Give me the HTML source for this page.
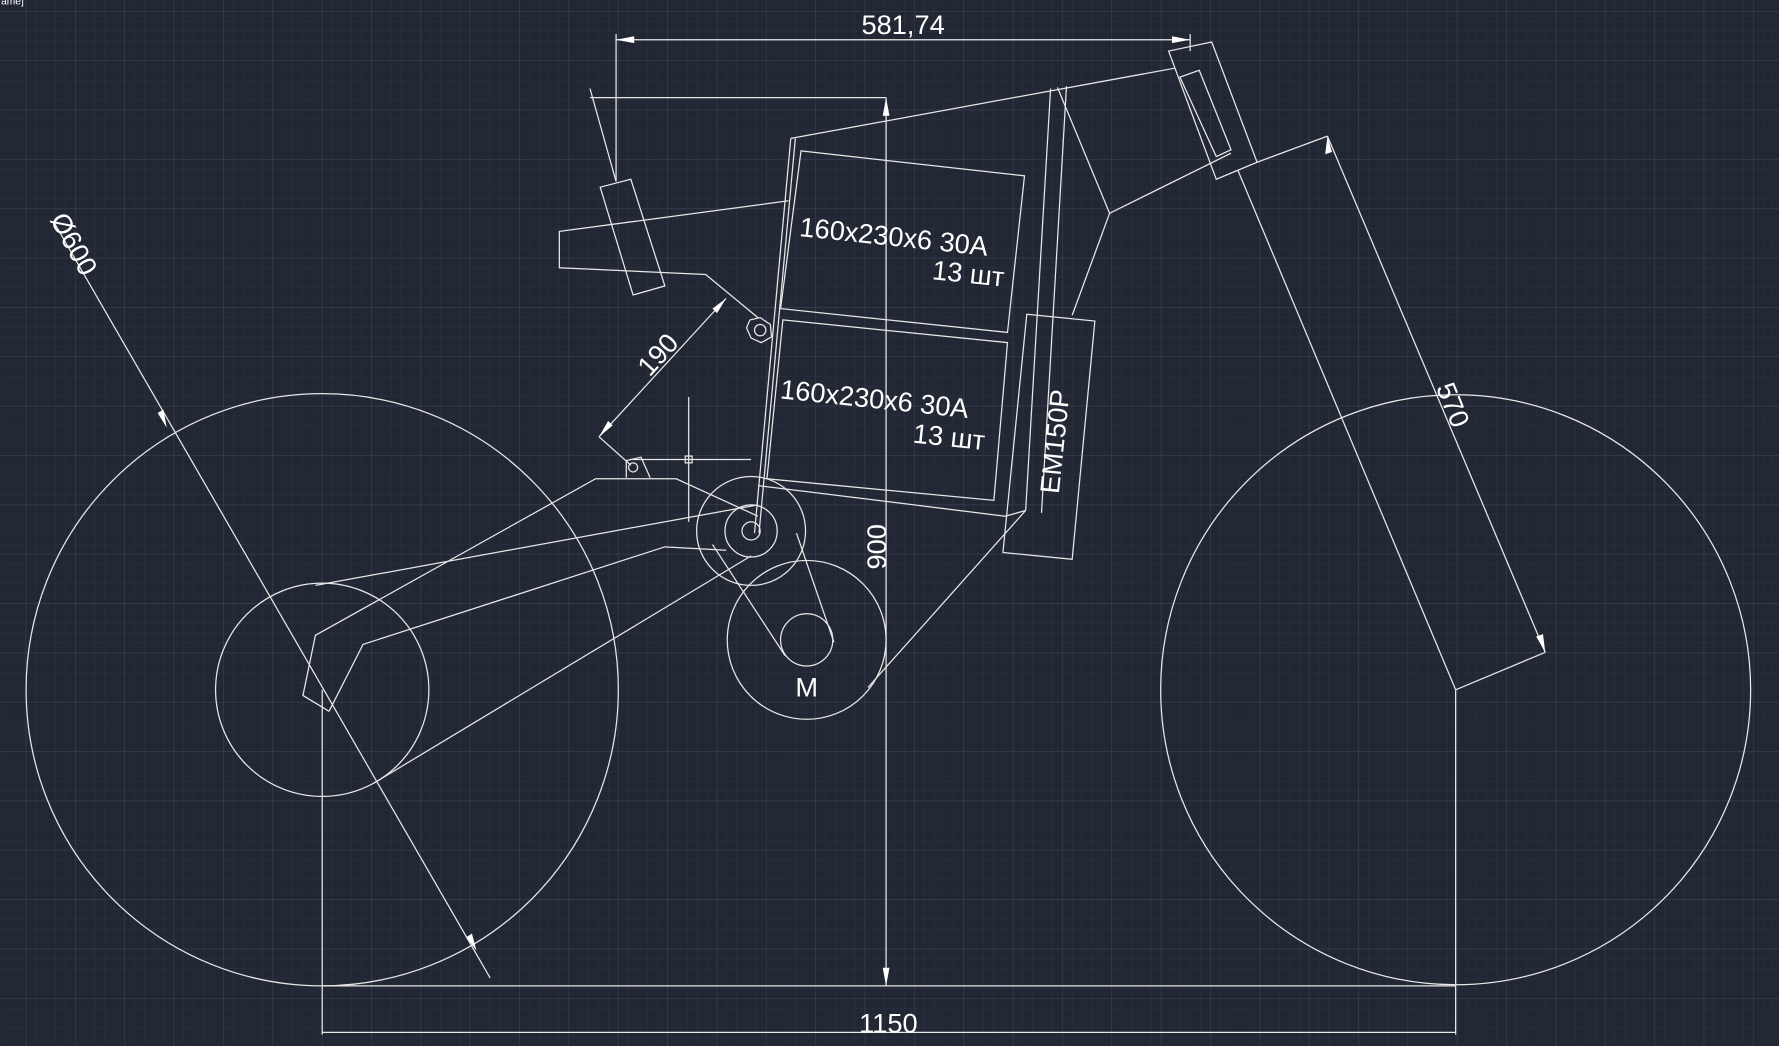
<!DOCTYPE html>
<html><head><meta charset="utf-8"><style>
html,body{margin:0;padding:0;background:#222833;overflow:hidden}
svg{display:block}
text{font-family:"Liberation Sans","Noto Sans CJK SC",sans-serif;fill:#fff}
</style></head><body>
<svg width="1779" height="1046" viewBox="0 0 1568 922" preserveAspectRatio="none" xmlns="http://www.w3.org/2000/svg">
<defs>
<pattern id="mn" x="22.6" y="9.7" width="8.7" height="8.7" patternUnits="userSpaceOnUse">
<path d="M0 0H8.7M0 0V8.7" stroke="#2b3140" stroke-width="0.8" fill="none"/></pattern>
<pattern id="mj" x="22.6" y="9.7" width="43.5" height="43.5" patternUnits="userSpaceOnUse">
<path d="M0 0H43.5M0 0V43.5" stroke="#3a3f55" stroke-width="1" fill="none"/></pattern>
</defs>
<rect width="1568" height="922" fill="#222833"/>
<rect width="1568" height="922" fill="url(#mn)"/>
<rect width="1568" height="922" fill="url(#mj)"/>
<text x="-2" y="4" font-size="9">rame]</text>
<g stroke="#e8e8e8" stroke-width="1.1" fill="none">
<circle cx="284" cy="608" r="261"/>
<circle cx="1283" cy="608" r="260"/>
<circle cx="284" cy="608" r="94"/>
<circle cx="711" cy="564" r="70"/>
<circle cx="711" cy="564" r="23"/>
<circle cx="662" cy="468" r="48"/>
<circle cx="662" cy="468" r="23"/>
<circle cx="662" cy="468" r="8"/>
<polyline points="290,627 267,613 278,560 525,422 596,422 668,455"/>
<polyline points="290,627 320,568 586,482 640,485"/>
<line x1="278" y1="516" x2="668" y2="445"/>
<line x1="330" y1="690" x2="662" y2="490"/>
<line x1="628" y1="480" x2="692" y2="578"/>
<line x1="702" y1="470" x2="735" y2="566"/>
<polyline points="697,122 1036,60"/>
<line x1="697" y1="122" x2="665" y2="470"/>
<line x1="701" y1="122" x2="669" y2="470"/>
<line x1="926" y1="78" x2="904" y2="450"/>
<line x1="940" y1="76" x2="918" y2="452"/>
<polyline points="932,77 978,188 1085,135"/>
<line x1="978" y1="188" x2="945" y2="278"/>
<polyline points="904,450 765,606"/>
<polyline points="668,428 886,455 904,450"/>
<polygon points="1030,45 1068,37 1108,143 1072,158"/>
<polygon points="1040,68 1057,62 1085,132 1072,138"/>
<line x1="1091" y1="150" x2="1283" y2="608"/>
<line x1="1283" y1="608" x2="1362" y2="575"/>
<polygon points="706,133 903,155 888,293 688,272"/>
<polygon points="690,282 888,302 876,441 676,422"/>
<polygon points="905,277 965,283 945,493 884,487"/>
<polyline points="695,177 493,204 493,236 622,242 668,280"/>
<polygon points="529,165 556,158 586,252 558,260"/>
<line x1="520" y1="78" x2="543" y2="160"/>
<polygon points="661,282 670,280 679,286 680,297 671,302 662,298 658,289"/>
<circle cx="670" cy="291" r="5"/>
<polyline points="552,421 552,406 565,403 573,421"/>
<circle cx="558" cy="412" r="4"/>
<line x1="607" y1="350" x2="607" y2="460"/>
<line x1="555" y1="405" x2="662" y2="405"/>
<rect x="604" y="402" width="6" height="6"/>
<line x1="543" y1="35" x2="1049" y2="35"/>
<line x1="543" y1="30" x2="543" y2="160"/>
<line x1="1049" y1="30" x2="1049" y2="45"/>
<line x1="781" y1="86" x2="781" y2="869"/>
<line x1="520" y1="86" x2="781" y2="86"/>
<line x1="284" y1="869" x2="1283" y2="869"/>
<line x1="284" y1="608" x2="284" y2="912"/>
<line x1="1283" y1="608" x2="1283" y2="912"/>
<line x1="284" y1="910" x2="1283" y2="910"/>
<line x1="640" y1="263" x2="528" y2="385"/>
<line x1="528" y1="385" x2="556" y2="410"/>
<line x1="47" y1="195" x2="432" y2="862"/>
<line x1="1108" y1="143" x2="1170" y2="120"/>
<line x1="1170" y1="120" x2="1362" y2="575"/>
</g>
<g fill="#fff">
<polygon points="543,35 559,32 559,38"/>
<polygon points="1049,35 1033,32 1033,38"/>
<polygon points="781,86 778,102 784,102"/>
<polygon points="781,869 778,853 784,853"/>
<polygon points="640,263 628,272 632,276"/>
<polygon points="528,385 536,371 540,375"/>
<polygon points="147,377 139,364 144,361"/>
<polygon points="420,838 411,826 416,823"/>
<polygon points="1170,120 1168,136 1174,134"/>
<polygon points="1362,575 1354,561 1360,559"/>
</g>
<g font-size="24">
<text x="796" y="30" text-anchor="middle">581,74</text>
<text x="783" y="910" text-anchor="middle">1150</text>
<text x="711" y="614" text-anchor="middle">M</text>
<text transform="translate(781,482) rotate(-90)" text-anchor="middle">900</text>
<text transform="translate(586,318) rotate(-48)" text-anchor="middle">190</text>
<text transform="translate(58,219) rotate(61)" text-anchor="middle">Ø600</text>
<text transform="translate(1273,360) rotate(68)" text-anchor="middle">570</text>
<text transform="translate(938,390) rotate(-84)" text-anchor="middle">EM150P</text>
<text transform="translate(704,208) rotate(6)">160x230x6 30A</text>
<text transform="translate(821,246) rotate(6)">13 шт</text>
<text transform="translate(687,351) rotate(6)">160x230x6 30A</text>
<text transform="translate(804,390) rotate(6)">13 шт</text>
</g>
</svg>
</body></html>
